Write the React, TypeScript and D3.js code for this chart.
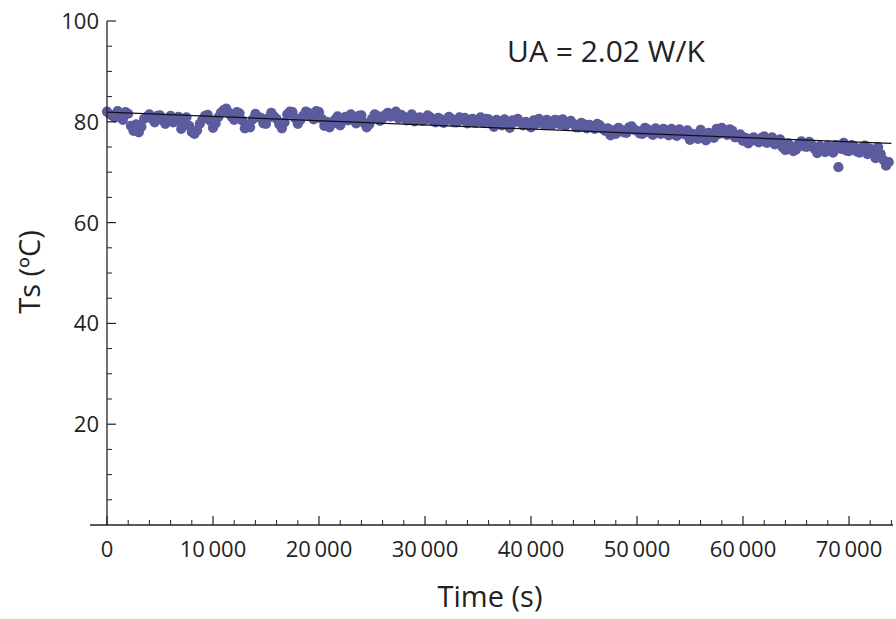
import React from "react";
import * as d3 from "d3";

// Surface temperature Ts (ºC): readings every 500 s starting at t = 0
const tsValuesA: number[] = [
  82.0, 81.2, 82.1, 80.4, 81.6, 78.2, 77.9, 80.6, 81.5, 79.9,
  81.3, 79.6, 81.2, 80.2, 78.6, 80.9, 78.0, 78.3, 80.5, 81.4,
  78.8, 80.9, 82.3, 81.8, 80.4, 81.7, 78.7, 78.9, 81.6, 80.8,
  79.6, 81.8, 80.6, 78.7, 81.5, 81.9, 79.6, 81.2, 81.8, 80.5,
  81.9, 79.2, 78.9, 80.4, 79.3, 81.0, 81.5, 79.7, 81.3, 78.9,
  80.6, 81.2, 80.7, 81.8, 81.6, 80.7, 81.0, 80.8, 80.1, 80.9,
  80.4, 80.9, 79.9, 80.5, 80.3, 80.6, 79.9, 80.4, 79.7, 80.6,
  80.2, 79.8, 80.5, 79.0, 80.1, 80.5, 78.8, 80.0, 79.9, 80.0,
  78.9, 79.6, 80.1, 80.4, 79.4, 80.3, 80.5, 79.8, 79.6, 78.9,
  79.5, 79.4, 78.6, 79.3, 78.2, 77.3, 77.6, 78.4, 77.8, 79.1,
  78.2, 77.6, 78.5, 77.4, 78.3, 78.6, 77.3, 78.0, 78.5, 77.5,
  76.4, 77.2, 78.4, 76.3, 77.0, 78.6, 78.8, 77.4, 78.2, 77.0,
  76.2, 75.7, 76.9, 75.9, 77.1, 76.4, 75.5, 76.5, 74.4, 75.2,
  74.5, 76.1, 75.0, 75.4, 73.8, 74.6, 75.3, 73.9, 71.0, 75.8,
  74.2, 75.1, 73.9, 75.3, 74.7, 72.8, 73.6, 71.3,
];
// Readings every 500 s starting at t = 250
const tsValuesB: number[] = [
  81.5, 80.8, 81.0, 81.9, 79.2, 79.5, 79.0, 81.0, 80.6, 81.2,
  80.3, 80.7, 79.9, 81.0, 79.8, 79.2, 77.6, 79.6, 81.2, 80.2,
  79.7, 81.8, 82.6, 81.0, 81.9, 80.3, 79.4, 80.5, 81.0, 79.7,
  80.8, 81.1, 79.5, 79.9, 82.0, 80.7, 80.4, 82.0, 81.0, 82.1,
  80.6, 80.0, 79.6, 81.1, 80.2, 80.3, 80.6, 81.2, 79.8, 79.5,
  81.5, 80.2, 81.4, 81.0, 82.0, 81.4, 80.3, 81.5, 80.7, 80.2,
  81.3, 80.2, 80.8, 79.8, 81.0, 79.9, 80.9, 80.8, 80.4, 79.8,
  80.9, 80.6, 79.6, 80.4, 79.3, 79.7, 80.3, 80.6, 79.3, 79.5,
  80.3, 80.6, 79.4, 79.5, 80.4, 79.5, 79.2, 80.2, 78.9, 79.8,
  78.7, 79.0, 79.6, 78.6, 78.7, 78.3, 78.8, 77.9, 78.9, 78.4,
  77.7, 78.8, 77.8, 78.7, 77.6, 77.7, 78.6, 77.2, 77.9, 78.3,
  77.6, 76.6, 77.5, 77.8, 76.8, 77.6, 77.9, 78.5, 76.9, 77.5,
  76.8, 76.6, 76.2, 76.8, 75.8, 76.9, 76.1, 74.9, 75.7, 74.2,
  75.6, 75.1, 76.0, 74.6, 75.2, 74.0, 74.5, 75.4, 74.6, 74.3,
  75.4, 74.1, 74.9, 73.6, 74.1, 75.0, 72.4, 72.0,
];
const sampleStep = 500;
const offsetB = 250;

// Fitted line (start and end)
const fitTimes: number[] = [0, 74000];
const fitTs: number[] = [81.9, 75.7];

const xMajorTicks: number[] = [0, 10000, 20000, 30000, 40000, 50000, 60000, 70000];
const xTickLabels: string[] = ["0", "10\u2009000", "20\u2009000", "30\u2009000", "40\u2009000", "50\u2009000", "60\u2009000", "70\u2009000"];
const yMajorTicks: number[] = [20, 40, 60, 80, 100];

const annotation = "UA = 2.02 W/K";
const xTitle = "Time (s)";
const yTitle = "Ts (ºC)";

export default function App() {
  const W = 896;
  const H = 619;
  const x = d3.scaleLinear().domain([0, 70000]).range([107, 849]);
  const y = d3.scaleLinear().domain([0, 100]).range([525, 21]);

  const points = [
    ...tsValuesA.map((v, i) => ({ t: i * sampleStep, v })),
    ...tsValuesB.map((v, i) => ({ t: offsetB + i * sampleStep, v })),
  ];
  const xMinor = d3.range(2000, 74001, 2000).filter((t) => t % 10000 !== 0);
  const yMinor = d3.range(5, 100, 5).filter((v) => v % 20 !== 0);

  const line = d3
    .line<number>()
    .x((_, i) => x(fitTimes[i]))
    .y((d) => y(d));

  const font = "'Open Sans', sans-serif";
  const textColor = "#222";
  const axisColor = "#222";
  const x0 = x(0);
  const y0 = y(0);

  return (
    <svg
      width={W}
      height={H}
      style={{ position: "absolute", left: 0, top: 0, background: "#fff" }}
      fontFamily={font}
    >
      {/* points */}
      <g fill="#5b5b9d">
        {points.map((p, i) => (
          <circle key={i} cx={x(p.t)} cy={y(p.v)} r={5.1} />
        ))}
      </g>
      {/* fit line */}
      <path d={line(fitTs) || ""} fill="none" stroke="#111" strokeWidth={1.3} />

      {/* x axis */}
      <line x1={90} x2={893} y1={y0} y2={y0} stroke={axisColor} strokeWidth={1.3} />
      {xMajorTicks.map((t, i) => (
        <g key={t}>
          <line x1={x(t)} x2={x(t)} y1={y0} y2={y0 - 9} stroke={axisColor} strokeWidth={1.2} />
          <text x={x(t)} y={557} textAnchor="middle" fontSize={22} fill={textColor}>
            {xTickLabels[i]}
          </text>
        </g>
      ))}
      {xMinor.map((t) => (
        <line key={t} x1={x(t)} x2={x(t)} y1={y0} y2={y0 - 5} stroke={axisColor} strokeWidth={1} />
      ))}

      {/* y axis */}
      <line x1={x0} x2={x0} y1={y0} y2={y(100)} stroke={axisColor} strokeWidth={1.3} />
      {yMajorTicks.map((v) => (
        <g key={v}>
          <line x1={x0} x2={x0 + 9} y1={y(v)} y2={y(v)} stroke={axisColor} strokeWidth={1.2} />
          <text x={99} y={y(v)} dy="0.36em" textAnchor="end" fontSize={22} fill={textColor}>
            {v}
          </text>
        </g>
      ))}
      {yMinor.map((v) => (
        <line key={v} x1={x0} x2={x0 + 5} y1={y(v)} y2={y(v)} stroke={axisColor} strokeWidth={1} />
      ))}

      {/* titles */}
      <text x={490} y={607} textAnchor="middle" fontSize={29} fill={textColor}>
        {xTitle}
      </text>
      <text
        transform={`translate(40, 272) rotate(-90)`}
        textAnchor="middle"
        fontSize={29}
        fill={textColor}
      >
        {yTitle}
      </text>
      <text x={606} y={62} textAnchor="middle" fontSize={30} fill={textColor}>
        {annotation}
      </text>
    </svg>
  );
}
